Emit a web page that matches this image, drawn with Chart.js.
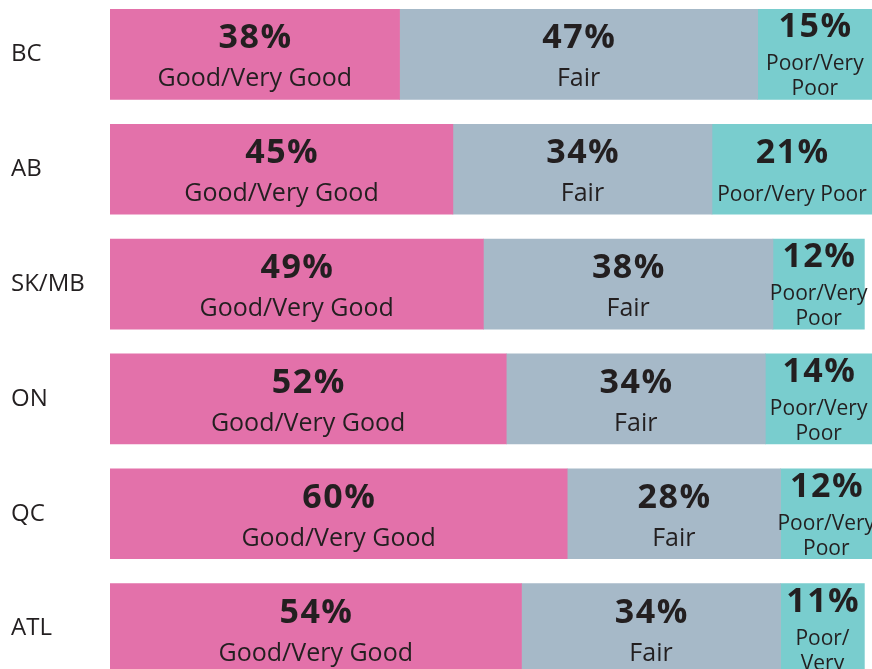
<!DOCTYPE html>
<html>
<head>
<meta charset="utf-8">
<script src="https://cdn.jsdelivr.net/npm/chart.js@4"></script>
<style>
  html, body { margin: 0; padding: 0; background: #ffffff; overflow: hidden; }
  body { width: 872px; height: 669px; position: relative; }
  #wrap { position: absolute; left: 0; top: -3px; width: 872px; height: 689px; }
</style>
</head>
<body>
<div id="wrap"><canvas id="c"></canvas></div>
<script>
const categories = ['BC', 'AB', 'SK/MB', 'ON', 'QC', 'ATL'];
const seriesNames = ['Good/Very Good', 'Fair', 'Poor/Very Poor'];
const goodValues = [38, 45, 49, 52, 60, 54];
const fairValues = [47, 34, 38, 34, 28, 34];
const poorValues = [15, 21, 12, 14, 12, 11];
const seriesColors = ['#E371AA', '#A6B9C8', '#79CDCE'];

const FONT = '"Open Sans", "Noto Sans", sans-serif';
const TEXT = '#231F20';

function wrapText(ctx, text, maxW) {
  const tokens = text.match(/[^\/ ]+[\/ ]?/g) || [text];
  const lines = [];
  let line = '';
  tokens.forEach(tok => {
    const test = line + tok;
    if (line && ctx.measureText(test.trimEnd()).width > maxW) {
      lines.push(line.trimEnd());
      line = tok;
    } else {
      line = test;
    }
  });
  if (line) lines.push(line.trimEnd());
  return lines;
}

const segLabels = {
  id: 'segLabels',
  afterDatasetsDraw(chart) {
    const ctx = chart.ctx;
    const area = chart.chartArea;
    ctx.save();
    ctx.fillStyle = TEXT;
    ctx.textAlign = 'center';
    ctx.textBaseline = 'alphabetic';
    chart.data.datasets.forEach((ds, i) => {
      const meta = chart.getDatasetMeta(i);
      meta.data.forEach((el, j) => {
        const p = el.getProps(['x', 'y', 'base', 'height'], true);
        const left = Math.min(p.x, p.base);
        const right = Math.min(Math.max(p.x, p.base), area.right);
        const w = right - left;
        const cx = (left + right) / 2;
        const top = p.y - p.height / 2;
        const labelSize = i === 2 ? 21 : 25;
        ctx.letterSpacing = '0px';
        ctx.font = labelSize + 'px ' + FONT;
        const lines = wrapText(ctx, ds.label, w + 8);
        const pct = ds.data[j] + '%';
        const drawPct = (yy) => {
          ctx.font = 'bold 34px ' + FONT;
          ctx.letterSpacing = '1.5px';
          ctx.fillText(pct, cx + 0.75, yy);
          ctx.letterSpacing = '0px';
          ctx.font = labelSize + 'px ' + FONT;
        };
        if (lines.length === 1) {
          drawPct(top + 39);
          ctx.fillText(lines[0], cx, top + 77);
        } else {
          drawPct(top + 28);
          lines.forEach((ln, k) => ctx.fillText(ln, cx, top + 61 + k * 25));
        }
      });
    });
    ctx.restore();
  }
};

const valueSets = [goodValues, fairValues, poorValues];

new Chart(document.getElementById('c'), {
  type: 'bar',
  data: {
    labels: categories,
    datasets: seriesNames.map((name, i) => ({
      label: name,
      data: valueSets[i],
      backgroundColor: seriesColors[i],
      borderWidth: 0,
      barThickness: 90
    }))
  },
  options: {
    indexAxis: 'y',
    responsive: true,
    maintainAspectRatio: false,
    animation: false,
    layout: { padding: { left: 11, right: 0, top: 0, bottom: 0 } },
    plugins: {
      legend: { display: false },
      tooltip: { enabled: false }
    },
    scales: {
      x: {
        stacked: true,
        min: 0,
        max: 100,
        display: false
      },
      y: {
        stacked: true,
        grid: { display: false },
        border: { display: false },
        ticks: {
          crossAlign: 'far',
          color: TEXT,
          font: { family: FONT, size: 24 }
        },
        afterFit(scale) {
          scale.width = 99;
          scale.paddingTop = 0;
          scale.paddingBottom = 0;
        }
      }
    }
  },
  plugins: [segLabels]
});
</script>
</body>
</html>
